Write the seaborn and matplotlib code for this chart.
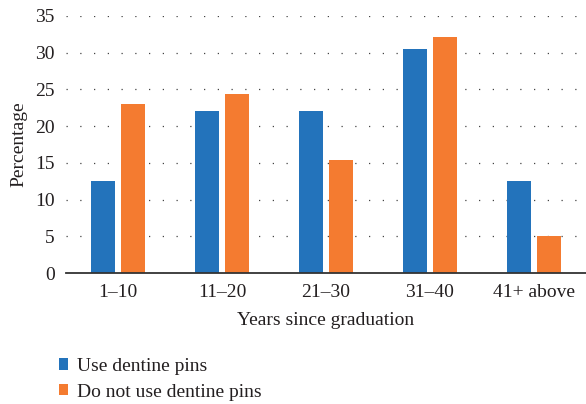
import pandas as pd
import matplotlib.pyplot as plt
import seaborn as sns

# values
groups = ["1–10", "11–20", "21–30", "31–40", "41+ above"]
use_pins = [12.5, 22.0, 22.0, 30.5, 12.5]
no_pins = [23.0, 24.4, 15.4, 32.1, 5.1]
series_names = ["Use dentine pins", "Do not use dentine pins"]
colors = ["#2373BB", "#F47B30"]

df = pd.DataFrame({
    "group": groups * 2,
    "value": use_pins + no_pins,
    "series": [series_names[0]] * len(groups) + [series_names[1]] * len(groups),
})

sns.set_style("white")
plt.rcParams["font.family"] = ["Liberation Serif", "DejaVu Serif"]

fig = plt.figure(figsize=(5.86, 4.04), dpi=100)
ax = fig.add_axes([0.1126, 0.324, 0.8874, 0.637])

sns.barplot(data=df, x="group", y="value", hue="series", order=groups,
            hue_order=series_names, palette=colors, width=0.577, gap=0.2,
            saturation=1, linewidth=0, ax=ax)

ax.set_ylim(0, 35)
ax.set_xlim(-0.5, 4.5)
ax.set_yticks(range(0, 36, 5))
ax.yaxis.grid(True, color="#444444", linestyle=(0, (1, 10)), linewidth=0.9)
ax.set_axisbelow(True)
for side in ["top", "right", "left"]:
    ax.spines[side].set_visible(False)
ax.spines["bottom"].set_color("#333333")
ax.spines["bottom"].set_linewidth(1.3)
ax.tick_params(axis="both", length=0, labelsize=14, colors="#231F20")
ax.tick_params(axis="x", pad=8)
ax.tick_params(axis="y", pad=8)

ax.set_xlabel("Years since graduation", fontsize=14, color="#231F20", labelpad=8)
ax.set_ylabel("Percentage", fontsize=14, color="#231F20", labelpad=6)

handles, labels = ax.get_legend_handles_labels()
ax.legend_.remove()
fig.legend(handles, labels, loc="lower left", bbox_to_anchor=(0.07, -0.035),
           frameon=False, fontsize=14, handlelength=0.5, handleheight=0.5,
           handletextpad=0.45, labelspacing=0.45, labelcolor="#231F20")

fig.savefig("out.png", dpi=100)
